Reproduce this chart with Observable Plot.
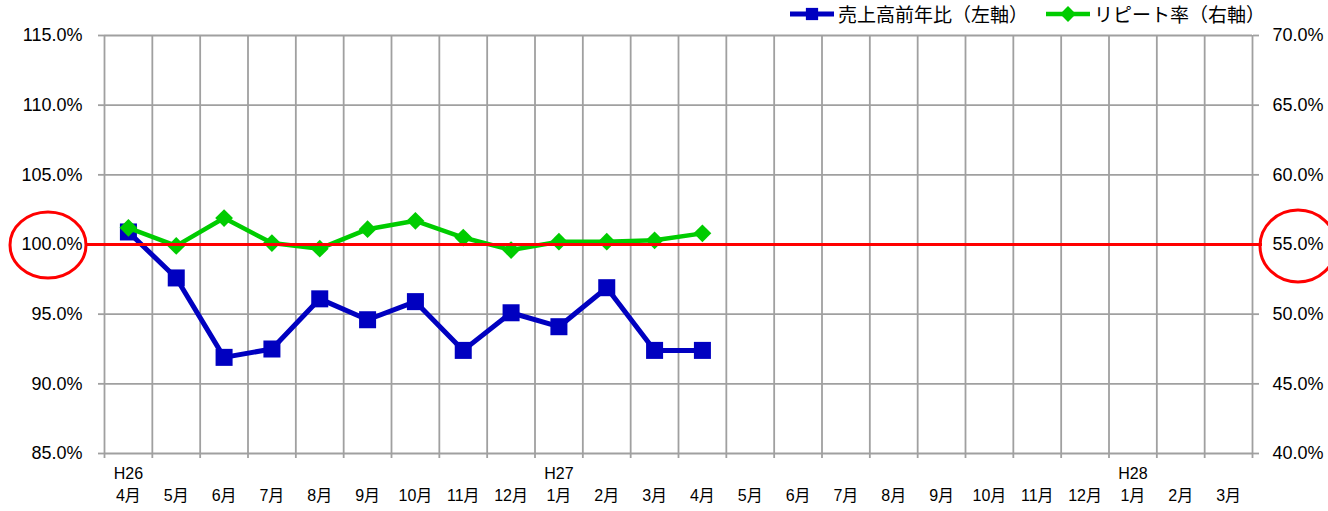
<!DOCTYPE html>
<html><head><meta charset="utf-8">
<script src="https://cdn.jsdelivr.net/npm/d3@7"></script>
<script src="https://cdn.jsdelivr.net/npm/@observablehq/plot@0.6"></script>
<style>
body{margin:0;background:#fff;}
#wrap{position:relative;width:1328px;height:511px;overflow:hidden;font-family:"Liberation Sans","Noto Sans CJK JP",sans-serif;background:#fff;}
#legend{position:absolute;top:3px;left:790px;height:22px;display:flex;align-items:center;font-family:"Noto Sans CJK JP",sans-serif;font-size:19px;line-height:22px;color:#000;white-space:nowrap;}
#legend .item{display:flex;align-items:center;}
#legend svg{display:block;}
</style>
</head><body>
<div id="wrap">
  <div id="chart"></div>
  <div id="legend"></div>
</div>
<script>
// ---- data ----
const months = ["4月","5月","6月","7月","8月","9月","10月","11月","12月","1月","2月","3月",
                "4月","5月","6月","7月","8月","9月","10月","11月","12月","1月","2月","3月"];
const years = ["H26","H27","H28"];
const yearAt = [0, 9, 21];
const salesYoY = [100.9, 97.6, 91.9, 92.5, 96.1, 94.6, 95.9, 92.4, 95.1, 94.1, 96.9, 92.4, 92.4];
const repeatRate = [56.2, 54.9, 56.9, 55.1, 54.7, 56.1, 56.7, 55.5, 54.6, 55.2, 55.2, 55.3, 55.8];
const leftTicks = [85, 90, 95, 100, 105, 110, 115];
const rightTicks = [40, 45, 50, 55, 60, 65, 70];
const referenceLine = 100;
const seriesNames = ["売上高前年比（左軸）", "リピート率（右軸）"];

// ---- styling ----
const blue = "#0000c0", green = "#00cc00", red = "#ff0000", grid = "#a0a0a0";
const W = 1328, H = 511;
const mL = 104, mR = 76, mT = 35, mB = 58;

const leftDomain = [leftTicks[0], leftTicks[leftTicks.length - 1]];
const rightDomain = [rightTicks[0], rightTicks[rightTicks.length - 1]];
const toLeft = r => leftDomain[0] + (r - rightDomain[0]) * (leftDomain[1] - leftDomain[0]) / (rightDomain[1] - rightDomain[0]);
const fromLeft = l => rightDomain[0] + (l - leftDomain[0]) * (rightDomain[1] - rightDomain[0]) / (leftDomain[1] - leftDomain[0]);
const xc = (d, i) => i + 0.5;
const bounds = d3.range(months.length + 1);

const chart = Plot.plot({
  width: W, height: H,
  marginLeft: mL, marginRight: mR, marginTop: mT, marginBottom: mB,
  style: {fontFamily: "'Liberation Sans','Noto Sans CJK JP',sans-serif", fontSize: "18px", color: "#000", background: "#fff"},
  x: {type: "linear", domain: [0, months.length], axis: null},
  y: {type: "linear", domain: leftDomain, axis: null},
  marks: [
    Plot.ruleX(bounds, {stroke: grid, strokeWidth: 1.8}),
    Plot.ruleY(leftTicks, {stroke: grid, strokeWidth: 1.8}),
    Plot.axisY(leftTicks, {anchor: "left", tickSize: 6, tickPadding: 16, stroke: grid, strokeWidth: 1.8, color: "#000", fill: "#000", fontSize: 18, tickFormat: d => d.toFixed(1) + "%"}),
    Plot.axisY(rightTicks.map(toLeft), {anchor: "right", tickSize: 6, tickPadding: 14, stroke: grid, strokeWidth: 1.8, color: "#000", fill: "#000", fontSize: 18, tickFormat: d => fromLeft(d).toFixed(1) + "%"}),
    Plot.axisX(bounds, {anchor: "bottom", tickSize: 5, stroke: grid, strokeWidth: 1.8, tickFormat: () => ""}),
    Plot.text(months, {x: xc, frameAnchor: "bottom", dy: 47, fontSize: 16, fill: "#000", text: d => d}),
    Plot.text(years, {x: (d, i) => yearAt[i] + 0.5, frameAnchor: "bottom", dy: 25, fontSize: 16, fill: "#000", text: d => d}),
    Plot.line(salesYoY, {x: xc, y: d => d, stroke: blue, strokeWidth: 5}),
    Plot.dot(salesYoY, {x: xc, y: d => d, symbol: "square", r: 9.6, fill: blue, stroke: "none"}),
    Plot.line(repeatRate, {x: xc, y: d => toLeft(d), stroke: green, strokeWidth: 4.5}),
    Plot.dot(repeatRate, {x: xc, y: d => toLeft(d), symbol: "diamond2", r: 8, fill: green, stroke: "none"}),
    Plot.ruleY([referenceLine], {stroke: red, strokeWidth: 3, insetLeft: -18, insetRight: -10})
  ]
});
document.getElementById("chart").appendChild(chart);

// red ellipse annotations around the 100% / 55% labels
const y0 = chart.scale("y").apply(referenceLine);
const svg = d3.select(chart);
svg.append("ellipse").attr("cx", mL - 56).attr("cy", y0 + 1).attr("rx", 38).attr("ry", 33)
  .attr("fill", "none").attr("stroke", red).attr("stroke-width", 3);
svg.append("ellipse").attr("cx", W - mR + 46).attr("cy", y0 + 2).attr("rx", 38).attr("ry", 36)
  .attr("fill", "none").attr("stroke", red).attr("stroke-width", 3);

// legend
const legend = d3.select("#legend");
function swatch(color, sym, width, size) {
  const s = legend.append("div").attr("class", "item");
  const sv = s.append("svg").attr("width", 44).attr("height", 20);
  sv.append("line").attr("x1", 0).attr("x2", 44).attr("y1", 10).attr("y2", 10).attr("stroke", color).attr("stroke-width", width);
  sv.append("path").attr("transform", "translate(22,10)").attr("fill", color)
    .attr("d", d3.symbol(sym, size)());
  return s;
}
swatch(blue, d3.symbolSquare, 5, 150).append("span").style("margin-left", "4px").text(seriesNames[0]);
swatch(green, d3.symbolDiamond2, 4.5, 160).style("margin-left", "18px").append("span").style("margin-left", "4px").text(seriesNames[1]);
</script>
</body></html>
